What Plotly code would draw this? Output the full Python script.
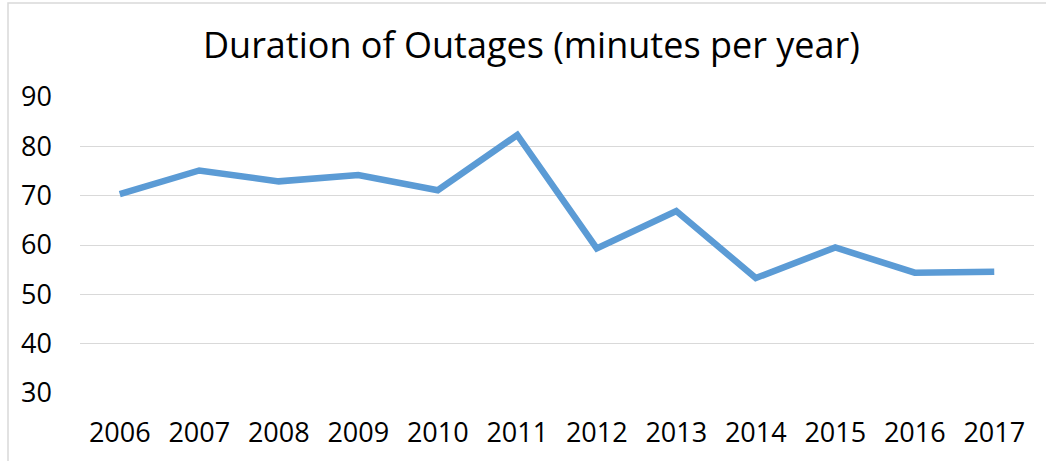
import plotly.graph_objects as go

years = ["2006", "2007", "2008", "2009", "2010", "2011", "2012", "2013", "2014", "2015", "2016", "2017"]
minutes = [70.3, 75.1, 72.9, 74.2, 71.1, 82.3, 59.3, 66.9, 53.3, 59.5, 54.4, 54.6]
y_ticks = [30, 40, 50, 60, 70, 80, 90]

W, H = 1046, 461
ml, mr, mt, mb = 80, 12, 97, 68

fig = go.Figure()
fig.add_trace(go.Scatter(
    x=years, y=minutes, mode="lines",
    line=dict(color="#5B9BD5", width=6.5, shape="linear"),
    hoverinfo="x+y", showlegend=False,
))

fig.update_layout(
    width=W, height=H,
    margin=dict(l=ml, r=mr, t=mt, b=mb, autoexpand=False),
    paper_bgcolor="white", plot_bgcolor="white",
    font=dict(family="Open Sans", color="#000000"),
    title=dict(text="Duration of Outages (minutes per year)", x=0.508, xanchor="center",
               y=1 - 45 / H, yanchor="middle", yref="container",
               font=dict(family="Open Sans", size=36, color="#000000")),
    xaxis=dict(type="category", range=[-0.5, 11.5], showgrid=False, zeroline=False,
               showline=False, ticks="", tickfont=dict(size=27, color="#000000"),
               ticklabelstandoff=21, automargin=False),
    yaxis=dict(range=[30, 90], tickvals=y_ticks, showgrid=True, gridcolor="#D9D9D9",
               gridwidth=1, zeroline=False, showline=False, ticks="",
               tickfont=dict(size=27, color="#000000"), ticklabelstandoff=27,
               automargin=False),
    shapes=[dict(type="rect", xref="paper", yref="paper",
                 x0=-(ml - 8) / (W - ml - mr), x1=1 + (mr + 5) / (W - ml - mr),
                 y0=-(mb + 5) / (H - mt - mb), y1=1 + (mt - 3) / (H - mt - mb),
                 line=dict(color="#D9D9D9", width=1.5), layer="below")],
)

fig.write_html("out.html", config={"displayModeBar": False},
               post_script="document.body.style.margin='0';")
